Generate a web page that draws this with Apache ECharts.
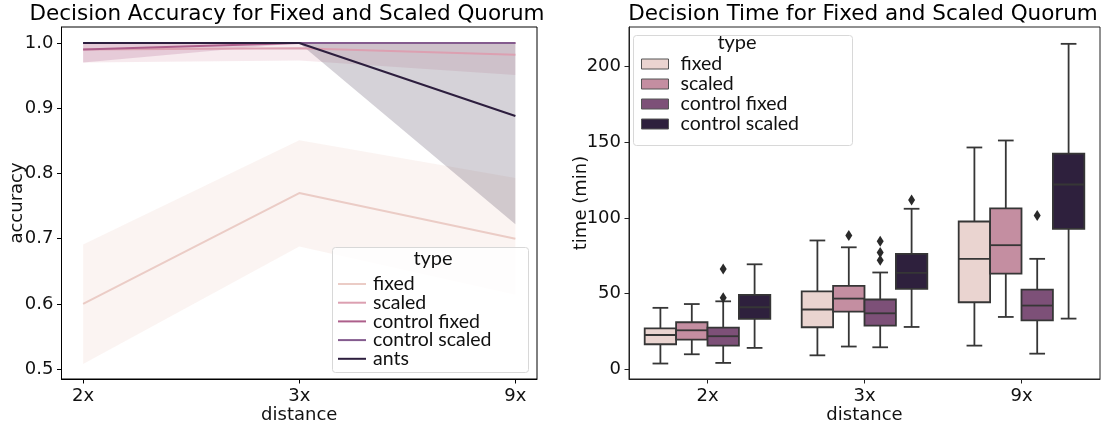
<!DOCTYPE html>
<html>
<head>
<meta charset="utf-8">
<script src="https://cdn.jsdelivr.net/npm/echarts@6/dist/echarts.min.js"></script>
<style>
body { margin: 0; background: #fff; }
#main { width: 1101px; height: 426px; }
</style>
</head>
<body>
<div id="main"></div>
<script>
// categories
var distances = ['2x', '3x', '9x'];
var accTypes = ['fixed', 'scaled', 'control fixed', 'control scaled', 'ants'];
var boxTypes = ['fixed', 'scaled', 'control fixed', 'control scaled'];

// left chart: mean accuracy and confidence band per type (index = distance)
var accFixed = [0.600, 0.770, 0.700];
var accFixedLo = [0.508, 0.688, 0.614];
var accFixedHi = [0.691, 0.851, 0.793];
var accScaled = [0.990, 0.992, 0.982];
var accScaledLo = [0.970, 0.973, 0.951];
var accScaledHi = [1.000, 1.000, 1.000];
var accCtrlFixed = [0.990, 1.000, 1.000];
var accCtrlFixedLo = [0.970, 1.000, 1.000];
var accCtrlFixedHi = [1.000, 1.000, 1.000];
var accCtrlScaled = [1.000, 1.000, 1.000];
var accCtrlScaledLo = [1.000, 1.000, 1.000];
var accCtrlScaledHi = [1.000, 1.000, 1.000];
var accAnts = [1.000, 1.000, 0.888];
var accAntsLo = [1.000, 1.000, 0.722];
var accAntsHi = [1.000, 1.000, 1.000];
var accTicks = [0.5, 0.6, 0.7, 0.8, 0.9, 1.0];

// right chart: [distance, low whisker, q1, median, q3, high whisker]
var timeFixed = [[0, 4.0, 16.7, 22.8, 27.2, 40.7], [1, 9.4, 27.9, 39.6, 51.6, 85.1], [2, 15.8, 44.4, 73.0, 97.6, 146.4]];
var timeScaled = [[0, 10.1, 19.8, 25.9, 31.2, 43.2], [1, 15.2, 38.2, 46.8, 55.2, 80.6], [2, 34.7, 63.3, 82.0, 106.2, 151.0]];
var timeCtrlFixed = [[0, 4.4, 15.8, 22.0, 27.7, 45.0], [1, 14.7, 29.0, 37.1, 46.2, 64.0], [2, 10.5, 32.5, 42.2, 52.7, 73.0]];
var timeCtrlScaled = [[0, 14.3, 33.4, 41.1, 49.2, 69.4], [1, 28.1, 53.2, 63.7, 76.3, 106.0], [2, 33.6, 92.8, 122.0, 142.4, 214.7]];
// outliers: [distance, value]
var outFixed = [];
var outScaled = [[1, 88.3]];
var outCtrlFixed = [[0, 66.3], [0, 47.3], [1, 84.6], [1, 77.2], [1, 72.0], [2, 101.5]];
var outCtrlScaled = [[1, 111.8]];
var timeTicks = [0, 50, 100, 150, 200];

var lineColors = ['#ebccc6', '#dca0b1', '#ad5f8b', '#845b8e', '#2d1e3e'];
var bandColors = ['rgba(235,204,198,0.22)', 'rgba(220,160,177,0.22)', 'rgba(173,95,139,0.22)', 'rgba(132,91,142,0.22)', 'rgba(45,30,62,0.2)'];
var boxColors = ['#ead4d0', '#c48ea1', '#7d5078', '#2e203d'];
var edge = '#363636';
var font = 'DejaVu Sans';

var accMeans = [accFixed, accScaled, accCtrlFixed, accCtrlScaled, accAnts];
var accLows = [accFixedLo, accScaledLo, accCtrlFixedLo, accCtrlScaledLo, accAntsLo];
var accHighs = [accFixedHi, accScaledHi, accCtrlFixedHi, accCtrlScaledHi, accAntsHi];
var timeBoxes = [timeFixed, timeScaled, timeCtrlFixed, timeCtrlScaled];
var timeOut = [outFixed, outScaled, outCtrlFixed, outCtrlScaled];

function bandItem(lo, hi, color) {
	return function (params, api) {
		if (params.dataIndex !== 0) return;
		var pts = [];
		for (var i = 0; i < hi.length; i++) pts.push(api.coord([i, hi[i]]));
		for (var j = lo.length - 1; j >= 0; j--) pts.push(api.coord([j, lo[j]]));
		return { type: 'polygon', shape: { points: pts }, style: { fill: color } };
	};
}

function boxItem(k) {
	return function (params, api) {
		var cat = api.value(0);
		var bw = api.size([1, 0])[0];
		var w = bw * 0.8 / 4;
		var cx = api.coord([cat, 0])[0] + (k - 1.5) * w;
		var yLo = api.coord([cat, api.value(1)])[1];
		var yQ1 = api.coord([cat, api.value(2)])[1];
		var yMed = api.coord([cat, api.value(3)])[1];
		var yQ3 = api.coord([cat, api.value(4)])[1];
		var yHi = api.coord([cat, api.value(5)])[1];
		var ls = { stroke: edge, lineWidth: 1.8 };
		return {
			type: 'group',
			children: [
				{ type: 'line', shape: { x1: cx, y1: yLo, x2: cx, y2: yQ1 }, style: ls },
				{ type: 'line', shape: { x1: cx, y1: yQ3, x2: cx, y2: yHi }, style: ls },
				{ type: 'line', shape: { x1: cx - w / 4, y1: yLo, x2: cx + w / 4, y2: yLo }, style: ls },
				{ type: 'line', shape: { x1: cx - w / 4, y1: yHi, x2: cx + w / 4, y2: yHi }, style: ls },
				{ type: 'rect', shape: { x: cx - w / 2, y: yQ3, width: w, height: yQ1 - yQ3 },
					style: { fill: boxColors[k], stroke: edge, lineWidth: 1.8 } },
				{ type: 'line', shape: { x1: cx - w / 2, y1: yMed, x2: cx + w / 2, y2: yMed }, style: ls }
			]
		};
	};
}

function outItem(k) {
	return function (params, api) {
		var bw = api.size([1, 0])[0];
		var w = bw * 0.8 / 4;
		var p = api.coord([api.value(0), api.value(1)]);
		var x = p[0] + (k - 1.5) * w, y = p[1];
		return {
			type: 'polygon',
			shape: { points: [[x, y - 5.5], [x + 3.5, y], [x, y + 5.5], [x - 3.5, y]] },
			style: { fill: '#2a2a2a' }
		};
	};
}

var series = [];
for (var i = 0; i < accTypes.length; i++) {
	var bandData = [];
	for (var d = 0; d < distances.length; d++) bandData.push([d, accLows[i][d], accHighs[i][d]]);
	series.push({
		name: '_band' + i, type: 'custom', xAxisIndex: 0, yAxisIndex: 0,
		renderItem: bandItem(accLows[i], accHighs[i], bandColors[i]),
		encode: { x: 0, y: [1, 2] }, data: bandData, silent: true, z: 1
	});
}
for (var i = 0; i < accTypes.length; i++) {
	var lineData = [];
	for (var d = 0; d < distances.length; d++) lineData.push([d, accMeans[i][d]]);
	series.push({
		name: accTypes[i], type: 'line', xAxisIndex: 0, yAxisIndex: 0,
		data: lineData, symbol: 'none', showSymbol: false,
		lineStyle: { color: lineColors[i], width: 2 },
		itemStyle: { color: lineColors[i] }, z: 2
	});
}
for (var k = 0; k < boxTypes.length; k++) {
	series.push({
		name: 'b:' + boxTypes[k], type: 'custom', xAxisIndex: 1, yAxisIndex: 1,
		renderItem: boxItem(k), encode: { x: 0, y: [1, 2, 3, 4, 5] },
		data: timeBoxes[k], itemStyle: { color: boxColors[k] }, z: 2
	});
	series.push({
		name: '_out' + k, type: 'custom', xAxisIndex: 1, yAxisIndex: 1,
		renderItem: outItem(k), encode: { x: 0, y: 1 },
		data: timeOut[k], z: 3
	});
}

var axisText = { fontFamily: font, fontSize: 18, color: '#111' };
var legendText = { fontFamily: 'Lato', fontSize: 19.5, color: '#111', lineHeight: 14 };

var option = {
	backgroundColor: '#fff',
	animation: false,
	title: [
		{ text: 'Decision Accuracy for Fixed and Scaled Quorum', left: 287, top: 3, padding: 0, textAlign: 'center',
			textStyle: { fontFamily: font, fontSize: 21.5, fontWeight: 'normal', color: '#000' } },
		{ text: 'Decision Time for Fixed and Scaled Quorum', left: 863, top: 3, padding: 0, textAlign: 'center',
			textStyle: { fontFamily: font, fontSize: 21.5, fontWeight: 'normal', color: '#000' } }
	],
	grid: [
		{ left: 61.5, top: 27, width: 475.5, height: 352, show: true, borderColor: '#000', borderWidth: 1, outerBoundsMode: 'none' },
		{ left: 629, top: 27, width: 471, height: 352, show: true, borderColor: '#222', borderWidth: 1, outerBoundsMode: 'none' }
	],
	xAxis: [
		{
			type: 'value', gridIndex: 0, min: -0.1, max: 2.1,
			name: 'distance', nameLocation: 'middle', nameGap: 27.5, nameMoveOverlap: false, nameTextStyle: axisText,
			axisLine: { show: true, onZero: false, lineStyle: { color: '#000' } },
			axisTick: { show: true, length: 4.5, customValues: [0, 1, 2], lineStyle: { color: '#000' } },
			axisLabel: Object.assign({ customValues: [0, 1, 2], margin: 8.5, formatter: function (v) { return distances[Math.round(v)]; } }, axisText),
			splitLine: { show: false }
		},
		{
			type: 'category', gridIndex: 1, data: distances, boundaryGap: true,
			name: 'distance', nameLocation: 'middle', nameGap: 27.5, nameMoveOverlap: false, nameTextStyle: axisText,
			axisLine: { show: true, onZero: false, lineStyle: { color: '#222' } },
			axisTick: { show: true, alignWithLabel: true, length: 4.5, lineStyle: { color: '#222' } },
			axisLabel: Object.assign({ margin: 8.5 }, axisText),
			splitLine: { show: false }
		}
	],
	yAxis: [
		{
			type: 'value', gridIndex: 0, min: 0.485, max: 1.0245,
			name: 'accuracy', nameLocation: 'middle', nameGap: 35.5, nameMoveOverlap: false, nameTextStyle: axisText,
			axisLine: { show: true, onZero: false, lineStyle: { color: '#000' } },
			axisTick: { show: true, length: 4.5, customValues: accTicks, lineStyle: { color: '#000' } },
			axisLabel: Object.assign({ customValues: accTicks, margin: 8, formatter: function (v) { return v.toFixed(1); } }, axisText),
			splitLine: { show: false }
		},
		{
			type: 'value', gridIndex: 1, min: -6.2, max: 225.8,
			name: 'time (min)', nameLocation: 'middle', nameGap: 39, nameMoveOverlap: false, nameTextStyle: axisText,
			axisLine: { show: true, onZero: false, lineStyle: { color: '#222' } },
			axisTick: { show: true, length: 4.5, customValues: timeTicks, lineStyle: { color: '#222' } },
			axisLabel: Object.assign({ customValues: timeTicks, margin: 8 }, axisText),
			splitLine: { show: false }
		}
	],
	legend: [
		{
			data: accTypes.map(function (t) { return { name: t, icon: 'rect' }; }),
			orient: 'vertical', left: 338, top: 274, padding: 0, z: 10,
			itemWidth: 28, itemHeight: 2, itemGap: -1.3, selectedMode: false,
			textStyle: Object.assign({ padding: [0, 0, 0, 2] }, legendText)
		},
		{
			data: boxTypes.map(function (t, k) {
				return { name: 'b:' + t, icon: 'rect', itemStyle: { color: boxColors[k], borderColor: '#555', borderWidth: 1 } };
			}),
			formatter: function (n) { return n.slice(2); },
			orient: 'vertical', left: 641, top: 54, padding: 0, z: 10,
			itemWidth: 27, itemHeight: 10, itemGap: 0, selectedMode: false,
			textStyle: Object.assign({ padding: [0, 0, 0, 7] }, legendText)
		}
	],
	graphic: [
		{ type: 'rect', left: 332, top: 247, z: 3, shape: { width: 196, height: 125, r: 3 },
			style: { fill: 'rgba(255,255,255,0.8)', stroke: '#d8d8d8', lineWidth: 1 } },
		{ type: 'text', x: 433, y: 259, z: 11, style: { text: 'type', fontFamily: 'Lato', fontSize: 20, fill: '#111', align: 'center', verticalAlign: 'middle' } },
		{ type: 'rect', left: 633, top: 35, z: 3, shape: { width: 219, height: 110, r: 3 },
			style: { fill: 'rgba(255,255,255,0.8)', stroke: '#d8d8d8', lineWidth: 1 } },
		{ type: 'text', x: 737, y: 43, z: 11, style: { text: 'type', fontFamily: 'Lato', fontSize: 20, fill: '#111', align: 'center', verticalAlign: 'middle' } }
	],
	series: series
};

var myChart = echarts.init(document.getElementById('main'));
myChart.setOption(option);
</script>
</body>
</html>
